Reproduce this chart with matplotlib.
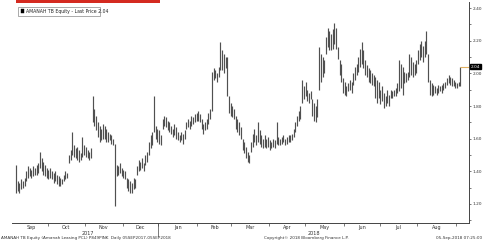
import numpy as np
import pandas as pd
import matplotlib
matplotlib.use("Agg")
import matplotlib.pyplot as plt
from matplotlib.patches import Rectangle

# ---- data (daily high / low, AMANAH TB Equity) ----
sep17_h = [1.44,1.34,1.33,1.35,1.34,1.36,1.40,1.43,1.42,1.41,1.43,1.42,1.44,1.45,1.52,1.48,1.46,1.44,1.42]
sep17_l = [1.27,1.28,1.27,1.29,1.30,1.31,1.34,1.36,1.37,1.36,1.37,1.38,1.38,1.39,1.42,1.40,1.38,1.37,1.36]
oct17_h = [1.41,1.42,1.40,1.39,1.40,1.38,1.37,1.36,1.35,1.38,1.40,1.39,1.50,1.53,1.64,1.56,1.54,1.55,1.53,1.51,1.61,1.56]
oct17_l = [1.35,1.36,1.35,1.33,1.34,1.32,1.31,1.31,1.32,1.34,1.35,1.36,1.45,1.47,1.50,1.49,1.48,1.47,1.46,1.47,1.49,1.50]
nov17_h = [1.55,1.53,1.52,1.54,1.86,1.78,1.74,1.70,1.68,1.66,1.69,1.68,1.66,1.64,1.63,1.62,1.60,1.57,1.44,1.43,1.45,1.42]
nov17_l = [1.49,1.48,1.47,1.48,1.70,1.68,1.65,1.61,1.58,1.59,1.60,1.60,1.58,1.58,1.59,1.57,1.56,1.19,1.37,1.38,1.39,1.37]
dec17_h = [1.41,1.40,1.36,1.35,1.34,1.33,1.36,1.35,1.43,1.47,1.46,1.48,1.45,1.50,1.52,1.58,1.62,1.64,1.86,1.68,1.66]
dec17_l = [1.36,1.35,1.30,1.28,1.27,1.27,1.29,1.30,1.38,1.40,1.41,1.42,1.40,1.44,1.46,1.50,1.54,1.56,1.64,1.60,1.58]
jan18_h = [1.65,1.62,1.72,1.74,1.73,1.71,1.70,1.68,1.66,1.69,1.67,1.64,1.62,1.64,1.63,1.65,1.70,1.72,1.71,1.74,1.73,1.75,1.76]
jan18_l = [1.57,1.56,1.66,1.68,1.67,1.65,1.64,1.63,1.61,1.62,1.60,1.59,1.58,1.59,1.57,1.60,1.66,1.67,1.66,1.68,1.69,1.70,1.71]
feb18_h = [1.77,1.75,1.72,1.69,1.70,1.72,1.76,1.78,2.01,2.03,2.02,2.00,2.04,2.19,2.14,2.12,2.10,2.10,1.86,1.82]
feb18_l = [1.71,1.70,1.66,1.63,1.65,1.66,1.69,1.72,1.77,1.96,1.97,1.95,1.98,2.02,2.02,2.00,2.03,1.86,1.76,1.74]
mar18_h = [1.80,1.78,1.74,1.72,1.70,1.67,1.60,1.58,1.55,1.52,1.50,1.58,1.63,1.66,1.62,1.70,1.65,1.62,1.60,1.62,1.60,1.61]
mar18_l = [1.73,1.72,1.66,1.64,1.62,1.60,1.53,1.51,1.48,1.46,1.45,1.52,1.55,1.58,1.56,1.58,1.57,1.55,1.54,1.55,1.54,1.55]
apr18_h = [1.59,1.58,1.60,1.59,1.70,1.61,1.60,1.61,1.62,1.60,1.61,1.62,1.62,1.63,1.66,1.70,1.74,1.77,1.80,1.96,1.92]
apr18_l = [1.53,1.54,1.55,1.54,1.57,1.56,1.56,1.57,1.58,1.56,1.57,1.58,1.58,1.59,1.61,1.64,1.68,1.71,1.72,1.82,1.84]
may18_h = [1.95,1.90,1.88,1.89,1.84,1.82,1.80,1.84,2.16,2.12,2.10,2.08,2.22,2.28,2.26,2.24,2.27,2.31,2.28,2.16,2.08,2.06,1.97]
may18_l = [1.86,1.83,1.82,1.84,1.74,1.71,1.70,1.73,1.90,1.95,1.98,2.00,2.12,2.16,2.14,2.14,2.15,2.18,2.15,2.09,1.99,1.95,1.88]
jun18_h = [1.95,1.92,1.94,1.96,1.95,2.00,2.04,2.06,2.10,2.15,2.19,2.14,2.08,2.05,2.03,2.02,2.00,1.99,1.98,1.96,1.95]
jun18_l = [1.87,1.86,1.89,1.90,1.88,1.93,1.96,1.99,2.01,2.04,2.06,2.03,1.99,1.98,1.95,1.94,1.93,1.92,1.85,1.82,1.85]
jul18_h = [1.90,1.92,1.88,1.86,1.90,1.87,1.90,1.89,1.90,1.91,1.94,2.08,2.06,2.04,2.01,2.00,2.01,2.12,2.10,2.07,2.06,2.08]
jul18_l = [1.81,1.83,1.79,1.80,1.82,1.80,1.85,1.85,1.86,1.86,1.88,1.89,1.91,1.87,1.94,1.95,1.96,1.98,1.99,1.98,1.99,2.00]
aug18_h = [2.14,2.18,2.20,2.17,2.20,2.26,2.12,1.96,1.94,1.93,1.92,1.91,1.93,1.92,1.93,1.94,1.95,1.97,1.99,1.98,1.97,1.96,1.95]
aug18_l = [2.06,2.08,2.10,2.07,2.10,2.12,1.95,1.87,1.86,1.87,1.88,1.87,1.88,1.89,1.88,1.90,1.91,1.93,1.94,1.93,1.92,1.92,1.91]
sep18_h = [1.94,1.95,2.04]
sep18_l = [1.91,1.92,1.92]

last_price = 2.04
month_labels = ["Sep","Oct","Nov","Dec","Jan","Feb","Mar","Apr","May","Jun","Jul","Aug"]
year_labels = ["2017","2018"]
y_ticks = [1.20,1.40,1.60,1.80,2.00,2.20,2.40]
legend_text = "AMANAH TB Equity - Last Price 2.04"
footer_left = "AMANAH TB Equity (Amanah Leasing PCL) P849PINK  Daily 05SEP2017-05SEP2018"
footer_mid = "Copyright\u00a9 2018 Bloomberg Finance L.P."
footer_right = "05-Sep-2018 07:25:00"

highs = np.array(sep17_h+oct17_h+nov17_h+dec17_h+jan18_h+feb18_h+mar18_h+apr18_h+may18_h+jun18_h+jul18_h+aug18_h+sep18_h)
lows = np.array(sep17_l+oct17_l+nov17_l+dec17_l+jan18_l+feb18_l+mar18_l+apr18_l+may18_l+jun18_l+jul18_l+aug18_l+sep18_l)
dates = pd.bdate_range("2017-09-05", "2018-09-05")
n = len(dates)
x = np.arange(n)

W, H = 483, 245
fig = plt.figure(figsize=(W/100, H/100), dpi=100)
fig.patch.set_facecolor("white")

ax_l, ax_r, ax_t, ax_b = 12, 469, 2, 223
ax = fig.add_axes([ax_l/W, 1-ax_b/H, (ax_r-ax_l)/W, (ax_b-ax_t)/H])
ax.set_facecolor("white")
ax.vlines(x, lows, highs, color="#505050", lw=0.85)
ax.hlines(last_price, x[-1], 275, color="#e0b060", lw=0.8)
ax.set_xlim(-2.4, 266)
ax.set_ylim(1.0834, 2.437)

for s in ["left", "top"]:
    ax.spines[s].set_visible(False)
ax.spines["right"].set_color("#444")
ax.spines["bottom"].set_color("#444")
ax.spines["right"].set_linewidth(0.7)
ax.spines["bottom"].set_linewidth(0.7)

ax.yaxis.tick_right()
ax.set_yticks(y_ticks)
ax.set_yticklabels([f"{v:.2f}" for v in y_ticks], fontsize=3.1, color="#333")
ax.set_yticks(np.arange(1.1, 2.45, 0.2), minor=True)
ax.tick_params(axis="y", which="both", length=1.5, width=0.5, pad=0.8, colors="#444")
ax.tick_params(axis="y", which="major", labelcolor="#333")

# month boundaries
months = dates.to_period("M")
starts = [0] + [i for i in range(1, n) if months[i] != months[i-1]]
bounds = [s - 0.5 for s in starts[1:]]
ax.set_xticks(bounds)
ax.set_xticklabels([])
ax.tick_params(axis="x", length=2.5, width=0.5, colors="#444")
ends = starts[1:] + [n]
for k, lab in enumerate(month_labels):
    c = (starts[k] + ends[k] - 1) / 2
    ax.text(c, -0.01, lab, transform=ax.get_xaxis_transform(), ha="center", va="top",
            fontsize=3.5, color="#333")
# year split
jan_idx = [i for i in range(1, n) if dates[i].year != dates[i-1].year][0]
ax.plot([jan_idx-0.5, jan_idx-0.5], [0, -0.06], transform=ax.get_xaxis_transform(),
        color="#444", lw=0.5, clip_on=False)
ax.text((0 + jan_idx) / 2, -0.037, year_labels[0], transform=ax.get_xaxis_transform(),
        ha="center", va="top", fontsize=3.5, color="#333")
ax.text((jan_idx + 266) / 2, -0.037, year_labels[1], transform=ax.get_xaxis_transform(),
        ha="center", va="top", fontsize=3.5, color="#333")

# last price tag
ax.text(1.004, last_price, "2.04", transform=ax.get_yaxis_transform(), ha="left", va="center",
        fontsize=3.1, color="white", bbox=dict(boxstyle="square,pad=0.15", fc="black", ec="black"))

# legend box
fig.add_artist(Rectangle((18/W, 1-16/H), 82/W, 9/H, transform=fig.transFigure,
                         fc="white", ec="#888", lw=0.5))
fig.add_artist(Rectangle((20.5/W, 1-13.5/H), 3.5/W, 4/H, transform=fig.transFigure,
                         fc="black", ec="black", lw=0.3))
fig.text(25.5/W, 1-11.5/H, legend_text, fontsize=3.3, va="center", ha="left", color="#222")

# top red strip
fig.add_artist(Rectangle((16/W, 1-3/H), 144/W, 3/H, transform=fig.transFigure,
                         fc="#d42a20", ec="none"))

# footer
fig.text(1/W, 1-238/H, footer_left, fontsize=3.0, va="center", ha="left", color="#333")
fig.text(306/W, 1-238/H, footer_mid, fontsize=3.0, va="center", ha="center", color="#333")
fig.text(482/W, 1-238/H, footer_right, fontsize=3.0, va="center", ha="right", color="#333")

fig.savefig("out.png", dpi=100, facecolor="white")
